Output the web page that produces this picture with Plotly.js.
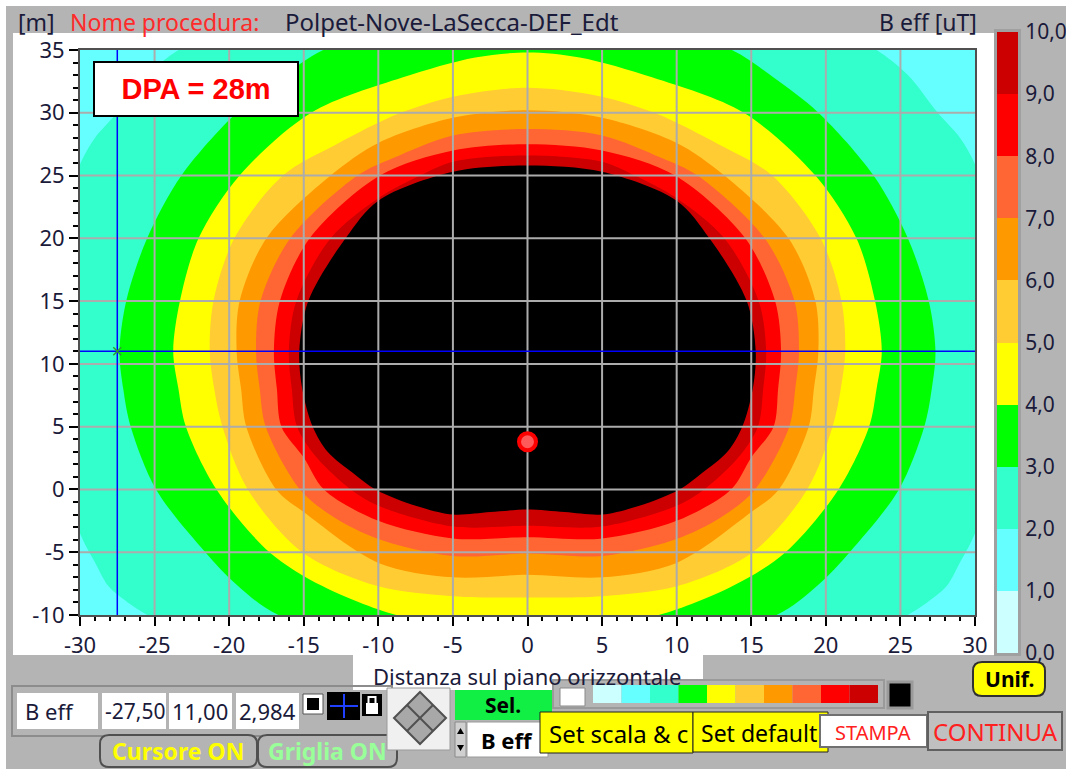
<!DOCTYPE html>
<html><head><meta charset="utf-8">
<script src="https://cdn.plot.ly/plotly-3.0.1.min.js"></script>
<style>html,body{margin:0;padding:0;background:#fff;}#chart{width:1066px;height:769px;}</style>
</head><body><div id="chart"></div>
<script>
// ---------- DATA ----------
const levels = [0,1,2,3,4,5,6,7,8,9,10];
const bandColors = ['#ccffff','#66ffff','#33ffcc','#00ff00','#ffff00','#ffcc33','#ff9900','#ff6633','#ff0000','#cc0000','#000000'];
const cbTickText = ['0,0','1,0','2,0','3,0','4,0','5,0','6,0','7,0','8,0','9,0','10,0'];
const xRange = [-30, 30];
const yRange = [-10, 35];
const xTicks = [-30,-25,-20,-15,-10,-5,0,5,10,15,20,25,30];
const yTicks = [-10,-5,0,5,10,15,20,25,30,35];

// Iso-lines of B eff (right half, x>=0, from top to bottom); the map is symmetric about x=0
const iso2X  = [0, 10, 20, 23.4, 25.5, 27.5, 29.0, 30.0, 31.5, 32.0, 31.5, 30.0, 29.0, 28.1, 26.8, 25.5, 22, 10, 0];
const iso2Y  = [39.5, 39, 37, 35, 33, 30, 28, 25.9, 20, 11, 2, -3.5, -5.8, -7.7, -9, -10, -12.5, -15, -15.5];
const iso3X  = [0, 7, 13.7, 16.5, 19.5, 23.2, 25.5, 26.9, 27.35, 27.1, 26.6, 24.9, 21.6, 19.5, 16.7, 8, 0];
const iso3Y  = [38.3, 37.5, 35, 32.8, 30, 25, 20, 15, 11, 8, 5, 0, -5, -7.6, -10, -12.5, -13];
const iso4X  = [0, 3.5, 8.4, 14.5, 19.3, 22.05, 23.3, 23.75, 23.4, 22.9, 20.85, 17.3, 13.75, 8.8, 4, 0];
const iso4Y  = [34.8, 34.4, 32.8, 30, 25, 20, 15, 11, 8, 5, 0, -5, -7.7, -10, -10.8, -11];
const iso5X  = [0, 4.5, 8.5, 12.8, 16.4, 19.65, 21.05, 21.3, 21.0, 20.45, 18.75, 15.1, 10.05, 5, 0];
const iso5Y  = [32.0, 31.4, 30, 27.5, 25, 20, 15, 11, 8, 5, 0, -5, -7.7, -8.5, -8.6];
const iso6X  = [0, 5, 10, 13.2, 17.5, 19.3, 19.5, 19.2, 18.85, 16.85, 15, 10, 5, 0];
const iso6Y  = [30.2, 29.6, 27.6, 25, 20, 15, 11, 8, 5, 0, -1.8, -5.85, -7.0, -6.8];
const iso7X  = [0, 5, 9, 11.4, 15.9, 17.9, 18.2, 17.95, 17.55, 15.25, 13, 10, 5, 0];
const iso7Y  = [28.7, 28.2, 26.4, 25, 20, 15, 11, 8, 5, 0, -2.2, -3.95, -5.3, -5.1];
const iso8X  = [0, 5, 9.9, 14.6, 16.6, 17.0, 16.8, 16.5, 15, 13.65, 10, 5, 0];
const iso8Y  = [27.5, 27.0, 25, 20, 15, 11, 8, 5, 2.55, 0, -2.5, -3.9, -3.8];
const iso9X  = [0, 5, 7.2, 10, 13.2, 15.5, 16.0, 15.8, 15.45, 14.1, 11.85, 10, 5, 0];
const iso9Y  = [26.6, 26.1, 25, 23.2, 20, 15, 11, 8, 5, 2.5, 0, -1.3, -2.95, -2.9];
const iso10X = [0, 5, 10, 12.2, 14.7, 15.3, 15.1, 14.4, 13.4, 11.7, 10.2, 7.5, 5, 2.5, 0];
const iso10Y = [25.8, 25.3, 23.0, 20, 15, 11, 8, 5, 3, 1.3, 0, -1.3, -2.0, -1.8, -1.6];

const sourceX = [0], sourceY = [3.8];
const cursorX = [-27.5], cursorY = [11.0];
const readout = ['B eff', '-27,50', '11,00', '2,984'];

// ---------- BUILD ----------
const W = 1066, H = 769;
const F = 'Noto Sans, Open Sans, sans-serif';
const TXT = '#1a1a3a';
const px = x => x / W, py = y => 1 - y / H;

function ring(xs, ys) {
  const X = xs.slice(), Y = ys.slice();
  for (let i = xs.length - 2; i >= 1; i--) { X.push(-xs[i]); Y.push(ys[i]); }
  X.push(xs[0]); Y.push(ys[0]);
  return [X, Y];
}
function band(xs, ys, color) {
  const r = ring(xs, ys);
  return {type:'scatter', mode:'lines', x:r[0], y:r[1], fill:'toself', fillcolor:color,
          line:{width:0, color:color, shape:'spline', smoothing:0.9}, hoverinfo:'skip', xaxis:'x', yaxis:'y'};
}
const traces = [];
// level 1-2 band covering the whole map
traces.push({type:'scatter', mode:'lines', x:[xRange[0],xRange[1],xRange[1],xRange[0],xRange[0]],
  y:[yRange[0],yRange[0],yRange[1],yRange[1],yRange[0]], fill:'toself', fillcolor:bandColors[1],
  line:{width:0,color:bandColors[1]}, hoverinfo:'skip'});
const isoSets = [[iso2X,iso2Y],[iso3X,iso3Y],[iso4X,iso4Y],[iso5X,iso5Y],[iso6X,iso6Y],[iso7X,iso7Y],[iso8X,iso8Y],[iso9X,iso9Y],[iso10X,iso10Y]];
isoSets.forEach((s, i) => traces.push(band(s[0], s[1], bandColors[i + 2])));

// grid on top of the map
const gx = [], gy = [];
xTicks.filter(v => v > xRange[0] && v < xRange[1]).forEach(v => { gx.push(v, v, null); gy.push(yRange[0], yRange[1], null); });
yTicks.filter(v => v > yRange[0] && v < yRange[1]).forEach(v => { gx.push(xRange[0], xRange[1], null); gy.push(v, v, null); });
traces.push({type:'scatter', mode:'lines', x:gx, y:gy, line:{color:'#acacac', width:2}, hoverinfo:'skip'});

// cursor
traces.push({type:'scatter', mode:'lines', x:[cursorX[0], cursorX[0], null, xRange[0], xRange[1]],
  y:[yRange[0], yRange[1], null, cursorY[0], cursorY[0]], line:{color:'#0000ff', width:1.5}, hoverinfo:'skip'});
traces.push({type:'scatter', mode:'markers', x:cursorX, y:cursorY,
  marker:{symbol:'x-thin-open', size:8, line:{color:'#2040ff', width:1.5}}, hoverinfo:'skip'});
// source point
traces.push({type:'scatter', mode:'markers', x:sourceX, y:sourceY,
  marker:{symbol:'circle', size:17, color:'#ff5a5a', line:{color:'#ff0000', width:4}}, hoverinfo:'skip'});

// colour scale bar
traces.push({type:'bar', xaxis:'x2', yaxis:'y2', x:levels.slice(0,10).map(() => 0),
  y:levels.slice(1).map((v, i) => v - levels[i]), base:levels.slice(0,10), width:1,
  marker:{color:bandColors.slice(0,10), line:{width:0}}, hoverinfo:'skip'});

// ---------- LAYOUT DECORATION ----------
const shapes = [];
function rect(x0,y0,x1,y1,fill,line,lw,layer){
  return {type:'rect', xref:'paper', yref:'paper', x0:px(x0), x1:px(x1), y0:py(y1), y1:py(y0),
    fillcolor:fill||'rgba(0,0,0,0)', line:{color:line||'rgba(0,0,0,0)', width:line?(lw||1):0}, layer:layer||'below'};
}
function pathP(pts, fill, line, lw, close){
  let d = 'M' + pts.map(p => px(p[0]) + ',' + py(p[1])).join(' L') + (close===false?'':' Z');
  return {type:'path', xref:'paper', yref:'paper', path:d, fillcolor:fill||'rgba(0,0,0,0)',
    line:{color:line||'rgba(0,0,0,0)', width:line?(lw||1):0}, layer:'below'};
}
function rrect(x0,y0,x1,y1,r,fill,line,lw){
  const P=(x,y)=>px(x)+','+py(y);
  const d='M'+P(x0+r,y0)+' L'+P(x1-r,y0)+' Q'+P(x1,y0)+' '+P(x1,y0+r)+' L'+P(x1,y1-r)+' Q'+P(x1,y1)+' '+P(x1-r,y1)+
    ' L'+P(x0+r,y1)+' Q'+P(x0,y1)+' '+P(x0,y1-r)+' L'+P(x0,y0+r)+' Q'+P(x0,y0)+' '+P(x0+r,y0)+' Z';
  return {type:'path', xref:'paper', yref:'paper', path:d, fillcolor:fill, line:{color:line, width:lw||1}, layer:'below'};
}
shapes.push(rect(0,0,W,6,'#ffffff'));
shapes.push(rect(0,0,6,H,'#ffffff'));
shapes.push(rect(13,33,994,655,'#ffffff'));
shapes.push(rect(353,655,703,690,'#ffffff'));
// readout panel
shapes.push(rect(12,686,392,736,null,'#8c8c8c',2));
shapes.push(rect(17,693,98,729,'#ffffff'));
shapes.push(rect(102,693,166,729,'#ffffff'));
shapes.push(rect(169,693,232,729,'#ffffff'));
shapes.push(rect(236,693,299,729,'#ffffff'));
shapes.push(rect(303,694,323,714,'#ffffff','#555',1));
shapes.push(rect(307,698,319,710,'#000000'));
shapes.push(rect(327,692,360,720,'#000000'));
shapes.push(pathP([[330,706],[358,706]],null,'#2040ff',2,false));
shapes.push(pathP([[344,694],[344,718]],null,'#2040ff',2,false));
shapes.push(rect(362,694,382,716,'#000000'));
shapes.push(rect(366,703,378,714,'#ffffff'));
shapes.push(rect(368.5,697,375.5,704,null,'#ffffff',2));
// buttons
shapes.push(rrect(100,735,257,767,9,'#b4b4b4','#505050',2));
shapes.push(rrect(258,735,397,767,9,'#b4b4b4','#505050',2));
// diamond
shapes.push(rect(387,688,450,750,'#f0f0f0','#9a9a9a',1));
shapes.push(pathP([[420,692],[446,718],[420,744],[394,718]],'#a8a8a8','#505050',2));
shapes.push(pathP([[407,705],[433,731]],null,'#505050',2,false));
shapes.push(pathP([[433,705],[407,731]],null,'#505050',2,false));
// Sel., spinner, B eff
shapes.push(rect(455,690,552,720,'#11ee44'));
shapes.push(rect(455,722,466,757,'#d0d0d0','#8a8a8a',1));
shapes.push(pathP([[457,734],[464,734],[460.5,728]],'#000000'));
shapes.push(pathP([[457,745],[464,745],[460.5,751]],'#000000'));
shapes.push(rect(467,722,548,757,'#ffffff','#9a9a9a',1));
// palette strip
shapes.push(rect(553,680,884,708,'#b4b4b4','#9a9a9a',2));
shapes.push(rect(560,688,585,706,'#ffffff','#8a8a8a',1));
const sw0 = 593, swW = 28.5;
bandColors.slice(0,10).forEach((c,i) => shapes.push(rect(sw0+i*swW,685,sw0+(i+1)*swW,703,c)));
shapes.push(rect(888,682,912,708,'#000000','#9a9a9a',3));
// yellow / action buttons
shapes.push(rect(540,712,693,753,'#ffff00','#202020',1));
shapes.push(rect(693,712,828,752,'#ffff00','#202020',1));
shapes.push(rect(820,715,927,747,'#ffffff','#707070',2));
shapes.push(rect(928,712,1062,750,'#c0c0c0','#606060',2));
shapes.push(rrect(973,662,1045,696,9,'#ffff00','#303030',2));

function txt(x,y,t,o){
  o=o||{};
  return {xref:'paper', yref:'paper', x:px(x), y:py(y), text:t, showarrow:false,
    xanchor:o.xa||'center', yanchor:'middle', font:{family:o.f||F, size:o.s||22, color:o.c||TXT}};
}
const annotations = [
  txt(16,22,'[m]',{xa:'left', s:23}),
  txt(68,22,'Nome procedura:',{xa:'left', c:'#ff2a2a', s:23}),
  txt(283,22,'Polpet-Nove-LaSecca-DEF_Edt',{xa:'left', s:24}),
  txt(877,22,'B eff [uT]',{xa:'left', s:23}),
  {xref:'paper', yref:'paper', x:px(196), y:py(89), xanchor:'center', yanchor:'middle', showarrow:false,
   text:'<b>DPA = 28m</b>', bgcolor:'#ffffff', bordercolor:'#000000', borderwidth:2, borderpad:0,
   width:202, height:52, font:{family:'Liberation Sans, Arial, sans-serif', size:29, color:'#ff0000'}},
  txt(527,676,'Distanza sul piano orizzontale',{s:22}),
  txt(23,711,readout[0],{xa:'left'}),
  txt(103,711,readout[1],{xa:'left', s:21}),
  txt(170,711,readout[2],{xa:'left'}),
  txt(237,711,readout[3],{xa:'left'}),
  txt(178,751,'<b>Cursore ON</b>',{c:'#ffff00', s:23}),
  txt(327,751,'<b>Griglia ON</b>',{c:'#99ff99', s:23}),
  txt(503,705,'<b>Sel.</b>',{c:'#000000', s:21}),
  txt(506,740,'<b>B eff</b>',{c:'#000000', s:22}),
  txt(547,733,'Set scala & c',{xa:'left', c:'#000000', s:24}),
  txt(699,733,'Set default',{xa:'left', c:'#000000', s:23}),
  txt(873,732,'STAMPA',{c:'#ff2020', s:20}),
  txt(995,731,'CONTINUA',{c:'#ff2020', s:24}),
  txt(1009,679,'<b>Unif.</b>',{c:'#000000', s:21})
];

const axisFont = {family:F, size:22, color:TXT};
const layout = {
  width:W, height:H, margin:{l:0,r:0,t:0,b:0}, paper_bgcolor:'#b4b4b4', plot_bgcolor:'rgba(0,0,0,0)',
  showlegend:false, hovermode:false, bargap:0,
  xaxis:{domain:[80/W, 975/W], range:xRange, tickmode:'array', tickvals:xTicks, ticktext:xTicks.map(String),
    ticks:'outside', ticklen:9, tickwidth:2, tickcolor:'#000', ticklabelstandoff:1,
    minor:{ticks:'outside', dtick:1, tick0:0, ticklen:4, tickwidth:2, tickcolor:'#000', showgrid:false},
    showgrid:false, zeroline:false, showline:true, mirror:true, linecolor:'#505050', linewidth:2,
    tickfont:axisFont, fixedrange:true, anchor:'y'},
  yaxis:{domain:[1-615/H, 1-50/H], range:yRange, tickmode:'array', tickvals:yTicks, ticktext:yTicks.map(String),
    ticks:'outside', ticklen:9, tickwidth:2, tickcolor:'#000',
    minor:{ticks:'outside', dtick:1, tick0:0, ticklen:5, tickwidth:2, tickcolor:'#000', showgrid:false},
    showgrid:false, zeroline:false, showline:true, mirror:true, linecolor:'#505050', linewidth:2,
    tickfont:axisFont, fixedrange:true, anchor:'x'},
  xaxis2:{domain:[997/W, 1018/W], range:[-0.5,0.5], anchor:'y2', showticklabels:false, ticks:'',
    showgrid:false, zeroline:false, showline:true, mirror:true, linecolor:'#a0a0a0', linewidth:3, fixedrange:true},
  yaxis2:{domain:[1-653/H, 1-32/H], range:[0,10], anchor:'x2', side:'right', tickmode:'array',
    tickvals:levels, ticktext:cbTickText, ticks:'', showgrid:false, zeroline:false, showline:true, mirror:true,
    linecolor:'#a0a0a0', linewidth:3, tickfont:{family:F, size:21, color:TXT}, fixedrange:true},
  shapes:shapes, annotations:annotations
};
Plotly.newPlot('chart', traces, layout, {staticPlot:true, displayModeBar:false});
</script></body></html>
